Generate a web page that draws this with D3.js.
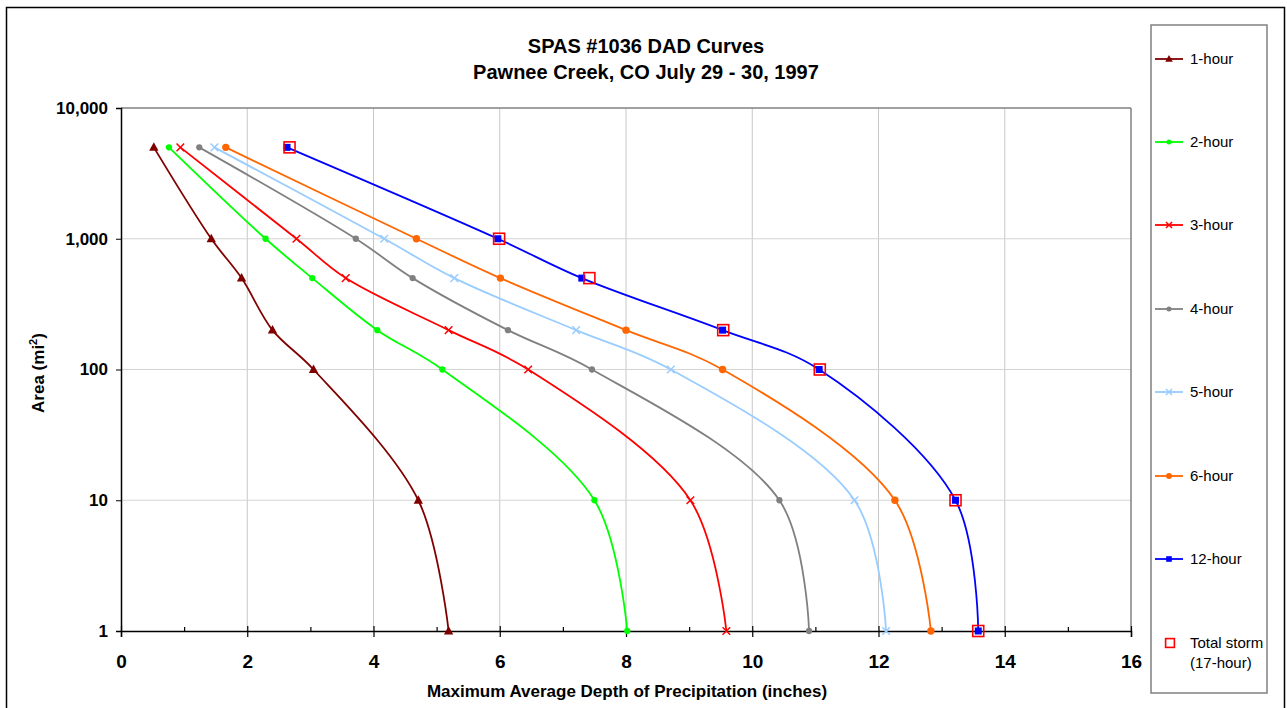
<!DOCTYPE html>
<html>
<head>
<meta charset="utf-8">
<script src="https://cdn.jsdelivr.net/npm/d3@7/dist/d3.min.js"></script>
<style>
  html, body { margin: 0; padding: 0; background: #fff; }
  svg { display: block; font-family: "Liberation Sans", Arial, sans-serif; }
</style>
</head>
<body>
<svg id="chart" width="1287" height="708"></svg>
<script>
// ---- data ----
const titleLines = ["SPAS #1036 DAD Curves", "Pawnee Creek, CO July 29 - 30, 1997"];
const areas = [5000, 1000, 500, 200, 100, 10, 1];
const hour1 = [0.52, 1.43, 1.91, 2.40, 3.05, 4.71, 5.19];
const hour2 = [0.76, 2.29, 3.03, 4.06, 5.09, 7.50, 8.02];
const hour3 = [0.94, 2.78, 3.56, 5.19, 6.45, 9.02, 9.59];
const hour4 = [1.24, 3.72, 4.62, 6.13, 7.46, 10.43, 10.90];
const hour5 = [1.48, 4.17, 5.28, 7.21, 8.71, 11.62, 12.12];
const hour6 = [1.66, 4.68, 6.01, 8.00, 9.53, 12.26, 12.83];
const hour12 = [2.63, 5.97, 7.30, 9.53, 11.06, 13.22, 13.58];
const totalStorm = [2.67, 5.99, 7.42, 9.54, 11.07, 13.22, 13.58];
const seriesNames = ["1-hour", "2-hour", "3-hour", "4-hour", "5-hour", "6-hour", "12-hour"];
const totalName = ["Total storm", "(17-hour)"];
const xTicks = [0, 2, 4, 6, 8, 10, 12, 14, 16];
const xMinorTicks = [1, 3, 5, 7, 9, 11, 13, 15];
const yTicks = [1, 10, 100, 1000, 10000];
const xTitle = "Maximum Average Depth of Precipitation (inches)";

// ---- styles ----
const seriesData = [hour1, hour2, hour3, hour4, hour5, hour6, hour12];
const colors = ["#800000", "#00ff00", "#ff0000", "#808080", "#99ccff", "#ff6600", "#0000ff"];
const markers = ["triangle", "circle", "x", "circle", "x", "circle", "square"];
const markerSize = [1, 0.95, 1, 0.95, 1, 1.12, 1];

const svg = d3.select("#chart");
const L = 121, R = 1131, T = 108, B = 631;
const x = d3.scaleLinear().domain([0, 16]).range([L, R]);
const y = d3.scaleLog().domain([1, 10000]).range([B, T]);

// outer frame
svg.append("rect").attr("x", 6.5).attr("y", 7.5).attr("width", 1278).attr("height", 720)
  .attr("fill", "#fff").attr("stroke", "#000").attr("stroke-width", 1.5);

// title
svg.append("text").attr("x", 646).attr("y", 53).attr("text-anchor", "middle")
  .attr("font-size", 20).attr("font-weight", "bold").text(titleLines[0]);
svg.append("text").attr("x", 646).attr("y", 79).attr("text-anchor", "middle")
  .attr("font-size", 20).attr("font-weight", "bold").text(titleLines[1]);

// gridlines
const grid = svg.append("g");
grid.selectAll("line.v").data(xTicks.slice(1, -1)).enter().append("line")
  .attr("x1", d => x(d)).attr("x2", d => x(d)).attr("y1", T).attr("y2", B)
  .attr("stroke", "#c8c8c8").attr("stroke-width", 1);
grid.selectAll("line.h").data(yTicks.slice(1, -1)).enter().append("line")
  .attr("x1", L).attr("x2", R).attr("y1", d => y(d)).attr("y2", d => y(d))
  .attr("stroke", "#d4d4d4").attr("stroke-width", 1.2);

// plot border top/right
svg.append("line").attr("x1", L).attr("x2", R).attr("y1", T).attr("y2", T).attr("stroke", "#808080").attr("stroke-width", 1.5);
svg.append("line").attr("x1", R).attr("x2", R).attr("y1", T).attr("y2", B).attr("stroke", "#808080").attr("stroke-width", 1.5);

// axes
const yAxis = d3.axisLeft(y).tickValues(yTicks).tickFormat(d3.format(",")).tickSize(5).tickPadding(8);
const gy = svg.append("g").attr("transform", `translate(${L},0)`).call(yAxis);
gy.select(".domain").attr("stroke", "#000").attr("stroke-width", 1.5);
gy.selectAll(".tick line").attr("stroke", "#000");
gy.selectAll("text").attr("font-size", 17).attr("font-weight", "bold").attr("fill", "#000")
  .attr("font-family", "Liberation Sans, Arial, sans-serif");

const xAxis = d3.axisBottom(x).tickValues(xTicks).tickFormat(d3.format("d")).tickSize(6).tickPadding(18);
const gx = svg.append("g").attr("transform", `translate(0,${B})`).call(xAxis);
gx.select(".domain").attr("stroke", "#000").attr("stroke-width", 1.5);
gx.selectAll(".tick line").attr("stroke", "#000").attr("y1", -5).attr("stroke-width", 1.2);
gx.selectAll("text").attr("font-size", 19).attr("font-weight", "bold").attr("fill", "#000")
  .attr("font-family", "Liberation Sans, Arial, sans-serif");

const xMinor = d3.axisBottom(x).tickValues(xMinorTicks).tickFormat("").tickSize(-4);
const gxm = svg.append("g").attr("transform", `translate(0,${B})`).call(xMinor);
gxm.select(".domain").remove();
gxm.selectAll(".tick line").attr("stroke", "#000").attr("stroke-width", 1.2);

// axis titles
svg.append("text").attr("x", 627).attr("y", 697).attr("text-anchor", "middle")
  .attr("font-size", 17).attr("font-weight", "bold").text(xTitle);
const yt = svg.append("text").attr("transform", "translate(44,373) rotate(-90)")
  .attr("text-anchor", "middle").attr("font-size", 17).attr("font-weight", "bold");
yt.append("tspan").text("Area (mi");
yt.append("tspan").attr("font-size", 11).attr("dy", -7).text("2");
yt.append("tspan").attr("dy", 7).text(")");

// marker drawing
function drawMarker(g, type, cx, cy, color, s) {
  if (type === "triangle") {
    const h = 8.5 * s;
    g.append("path").attr("d", `M${cx},${cy - h * 0.6}L${cx + h * 0.55},${cy + h * 0.4}L${cx - h * 0.55},${cy + h * 0.4}Z`).attr("fill", color);
  } else if (type === "circle") {
    g.append("circle").attr("cx", cx).attr("cy", cy).attr("r", 3.3 * s).attr("fill", color);
  } else if (type === "x") {
    const r = 3.8 * s;
    g.append("path").attr("d", `M${cx - r},${cy - r}L${cx + r},${cy + r}M${cx - r},${cy + r}L${cx + r},${cy - r}`)
      .attr("stroke", color).attr("stroke-width", 1.5).attr("fill", "none");
  } else if (type === "square") {
    const r = 3.5 * s;
    g.append("rect").attr("x", cx - r).attr("y", cy - r).attr("width", 2 * r).attr("height", 2 * r).attr("fill", color);
  } else if (type === "hollow") {
    const r = 5.5 * s;
    g.append("rect").attr("x", cx - r).attr("y", cy - r).attr("width", 2 * r).attr("height", 2 * r)
      .attr("fill", "none").attr("stroke", color).attr("stroke-width", 1.6);
  }
}

const line = d3.line().x(d => x(d[0])).y(d => y(d[1])).curve(d3.curveCatmullRom.alpha(0.5));
const plot = svg.append("g");
seriesData.forEach((vals, i) => {
  const pts = vals.map((v, j) => [v, areas[j]]);
  plot.append("path").datum(pts).attr("d", line).attr("fill", "none")
    .attr("stroke", colors[i]).attr("stroke-width", 1.8);
});
seriesData.forEach((vals, i) => {
  const g = plot.append("g");
  vals.forEach((v, j) => drawMarker(g, markers[i], x(v), y(areas[j]), colors[i], markerSize[i]));
});
const tg = plot.append("g");
totalStorm.forEach((v, j) => drawMarker(tg, "hollow", x(v), y(areas[j]), "#ff0000", 1));

// legend
svg.append("rect").attr("x", 1151).attr("y", 25).attr("width", 116).attr("height", 668)
  .attr("fill", "#fff").attr("stroke", "#808080").attr("stroke-width", 1.5);
const legY = [59, 142, 225, 309, 392, 476, 559];
seriesNames.forEach((name, i) => {
  const g = svg.append("g");
  g.append("line").attr("x1", 1155).attr("x2", 1183).attr("y1", legY[i]).attr("y2", legY[i])
    .attr("stroke", colors[i]).attr("stroke-width", 1.8);
  drawMarker(g, markers[i], 1169, legY[i], colors[i], markerSize[i] * 0.8);
  g.append("text").attr("x", 1190).attr("y", legY[i] + 5).attr("font-size", 15).text(name);
});
const tl = svg.append("g");
drawMarker(tl, "hollow", 1170, 643, "#ff0000", 0.8);
tl.append("text").attr("x", 1190).attr("y", 648).attr("font-size", 15).text(totalName[0]);
tl.append("text").attr("x", 1190).attr("y", 668).attr("font-size", 15).text(totalName[1]);
</script>
</body>
</html>
